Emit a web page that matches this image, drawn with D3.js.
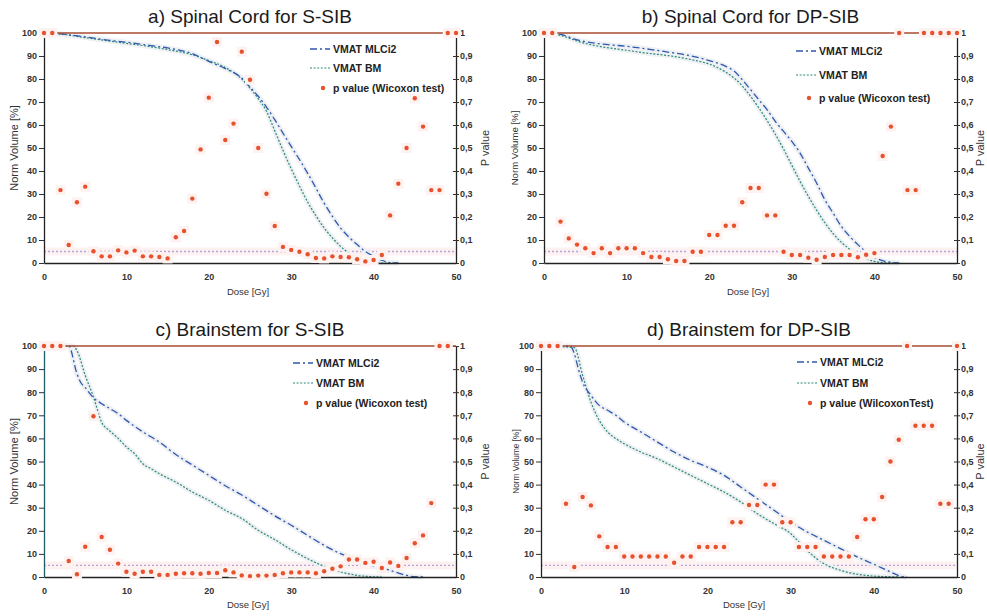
<!DOCTYPE html>
<html><head><meta charset="utf-8">
<script src="https://cdn.jsdelivr.net/npm/d3@7/dist/d3.min.js"></script>
<style>
body{margin:0;background:#fff;}
svg{display:block;font-family:"Liberation Sans",Arial,sans-serif;}
</style></head>
<body>
<svg id="c" width="987" height="616"></svg>
<script>
// ---------- DATA ----------
const titles = ["a) Spinal Cord for S-SIB","b) Spinal Cord for DP-SIB","c) Brainstem for S-SIB","d) Brainstem for DP-SIB"];
const legendLabels = ["VMAT MLCi2","VMAT BM"];
const pLegendLabels = ["p value (Wicoxon test)","p value (Wicoxon test)","p value (Wicoxon test)","p value (WilcoxonTest)"];
const volTicks = [0,10,20,30,40,50,60,70,80,90,100];
const pTicks = [0,0.1,0.2,0.3,0.4,0.5,0.6,0.7,0.8,0.9,1];
const doseTicks = [0,10,20,30,40,50];
const pThreshold = 0.05;
const pDose = [0,1,2,3,4,5,6,7,8,9,10,11,12,13,14,15,16,17,18,19,20,21,22,23,24,25,26,27,28,29,30,31,32,33,34,35,36,37,38,39,40,41,42,43,44,45,46,47,48,49,50];

// Panel a
const doseA = [0,2,5,8,10,13,15,18,20,22,24,25,26,27,28,29,30,31,32,33,34,35,36,37,38,39,40,41,42,43];
const mlcA = [100,99.6,98.3,96.8,96,94.5,93.5,91,87.7,84.5,80.4,76.5,72.5,67.8,62.3,56.5,50.7,45,39,32.6,26,20.3,15.2,11.3,8,5,2.9,1.2,0.2,0];
const bmA  = [100,99.5,98,96.5,95.5,94,92.8,90.5,88,85,80,76,71.5,66,57.5,49,41,33.5,26.5,20.5,15.2,10.9,7.2,4.3,2.2,0.9,0.2,0,0,0];
const pA = [1,1,0.317,0.078,0.264,0.332,0.051,0.029,0.029,0.055,
  0.046,0.054,0.029,0.029,0.026,0.02,0.112,0.139,0.28,0.494,
  0.719,0.961,0.535,0.606,0.919,0.797,0.5,0.301,0.161,0.07,
  0.057,0.049,0.038,0.022,0.02,0.029,0.026,0.025,0.016,0.007,
  0.013,0.035,0.207,0.345,0.5,0.716,0.593,0.317,0.317,1,1];

// Panel b
const doseB = [0,2,4,5,7,10,13,15,17,19,20,22,23,24,25,26,27,28,29,30,31,32,33,34,35,36,37,38,39,40,41,42,43];
const mlcB = [100,99.4,97,96.2,95.2,94.2,92.8,91.7,90.6,89,88,85.5,83.5,79.7,75.4,71,66.7,61.6,57.2,52.9,47.8,41.3,34.8,27.5,21.7,15.9,11.6,8,4.8,2.5,1,0.3,0];
const bmB  = [100,99,96.5,95.5,94,92.5,91,90.2,89,87.5,86.5,83,80.5,77,72.5,67.5,62,56,49.5,42.5,35.5,29,23,17.5,12.8,9,6,3.5,1.8,0.7,0.2,0,0];
const pB = [1,1,0.18,0.107,0.08,0.064,0.043,0.064,0.043,0.064,
  0.064,0.064,0.043,0.026,0.026,0.016,0.009,0.009,0.049,0.049,
  0.122,0.122,0.162,0.162,0.264,0.326,0.326,0.207,0.207,0.049,
  0.035,0.035,0.023,0.014,0.026,0.035,0.035,0.035,0.025,0.036,
  0.043,0.465,0.593,1,0.317,0.317,1,1,1,1,1];

// Panel c
const doseCmlc = [0,3,4,4.5,5,6,7,8,9,10,12,14,16,18,20,22,24,26,28,30,32,34,36,37,38,40,42,43,44,45,46];
const mlcC = [100,100,88,84,82,77.6,75,72.9,70.7,67.8,62.8,58.4,53,48.5,44,39.5,35.5,31,26.5,22.4,18,13.7,10.1,8.7,6.9,4.6,2.9,1.7,0.7,0.1,0];
const doseCbm = [0,3.5,4,5,6,7,8,9,10,11,12,13,14,16,18,20,22,24,26,28,30,32,34,36,38,40,41];
const bmC = [100,100,98,87.3,78,67,63.2,60,56.3,53.4,49,46.9,44.7,41.1,36.8,33.2,28.9,25.3,20.2,16.2,11.8,7.9,4.6,2.2,0.7,0.1,0];
const pC = [1,1,1,0.069,0.012,0.131,0.696,0.173,0.118,0.058,
  0.023,0.014,0.023,0.023,0.009,0.009,0.014,0.016,0.016,0.014,
  0.017,0.017,0.029,0.02,0.007,0.004,0.006,0.006,0.009,0.016,
  0.02,0.02,0.02,0.016,0.025,0.036,0.046,0.076,0.076,0.061,
  0.066,0.039,0.063,0.048,0.082,0.146,0.18,0.32,1,1,null];

// Panel d
const doseDmlc = [0,3.5,4,4.5,5,6,7,8,9,10,12,14,16,18,20,22,24,26,28,30,32,34,36,38,40,42,43,44];
const mlcD = [100,100,96.7,90,84.4,78.6,74.3,72.2,70,67.1,62.8,58.4,54.1,50.5,47.6,44,39,33.9,28.9,23.8,19.5,15.9,12.3,8.7,5.5,2.2,0.6,0];
const doseDbm = [0,4,5,6,7,8,9,10,12,14,16,18,20,22,24,26,28,30,31,32,34,36,38,40,42,43];
const bmD = [100,99.3,87.3,75.8,67.8,62.8,59.9,57.7,54.1,51.2,47.6,44,40.4,36.8,32.5,27.4,23.1,18.8,15.2,11.5,5.8,2.9,1.2,0.4,0.1,0];
const pD = [1,1,1,0.317,0.043,0.346,0.31,0.176,0.13,0.13,
  0.089,0.089,0.089,0.089,0.089,0.089,0.062,0.089,0.089,0.13,
  0.13,0.13,0.13,0.237,0.237,0.312,0.312,0.4,0.4,0.237,
  0.237,0.13,0.13,0.13,0.089,0.089,0.089,0.089,0.173,0.25,
  0.25,0.346,0.5,0.594,1,0.655,0.655,0.655,0.317,0.317,1];

// ---------- LAYOUT ----------
const panels = [
  {x0:44,x1:456,yT:33,yB:263,titleY:23,xlabX:248,xlabY:295,ylabX:14,ylabFs:11,pvX:485,legX:310,legY:[49,68,88],
   mlcDose:doseA,mlc:mlcA,bmDose:doseA,bm:bmA,p:pA,leftCol:"#222"},
  {x0:544,x1:957,yT:33,yB:263,titleY:23,xlabX:748,xlabY:295,ylabX:515,ylabFs:9.6,pvX:980,legX:796,legY:[51,75,98],
   mlcDose:doseB,mlc:mlcB,bmDose:doseB,bm:bmB,p:pB,leftCol:"#222"},
  {x0:44,x1:456,yT:346,yB:577,titleY:336,xlabX:248,xlabY:608,ylabX:14,ylabFs:11.2,pvX:485,legX:293,legY:[363,383,403],
   mlcDose:doseCmlc,mlc:mlcC,bmDose:doseCbm,bm:bmC,p:pC,leftCol:"#1f5a68"},
  {x0:541,x1:957,yT:346,yB:577,titleY:336,xlabX:744,xlabY:608,ylabX:516,ylabFs:8.3,pvX:980,legX:797,legY:[362,383,403],
   mlcDose:doseDmlc,mlc:mlcD,bmDose:doseDbm,bm:bmD,p:pD,leftCol:"#222"}
];

const svg = d3.select("#c");
const mlcColor = "#2f58b0", bmColor = "#2a8a78", ptColor = "#e8512e";

panels.forEach((P,i)=>{
  const g = svg.append("g");
  const x = d3.scaleLinear().domain([0,50]).range([P.x0,P.x1]);
  const y = d3.scaleLinear().domain([0,100]).range([P.yB,P.yT]);
  const yp = d3.scaleLinear().domain([0,1]).range([P.yB,P.yT]);

  // title
  g.append("text").attr("x",(P.x0+P.x1)/2).attr("y",P.titleY).attr("text-anchor","middle")
    .attr("font-size",19).attr("fill","#1a1a1a").text(titles[i]);

  // threshold band + line
  g.append("rect").attr("x",P.x0).attr("width",P.x1-P.x0).attr("y",yp(pThreshold)-4).attr("height",8)
    .attr("fill","#fdf1f1");
  g.append("line").attr("x1",P.x0).attr("x2",P.x1).attr("y1",yp(pThreshold)).attr("y2",yp(pThreshold))
    .attr("stroke","#b4a6dc").attr("stroke-width",1.3).attr("stroke-dasharray","2,2");

  // curves
  const line = d3.line().x(d=>x(d[0])).y(d=>y(d[1])).curve(d3.curveMonotoneX);
  const mlcPts = P.mlcDose.map((d,k)=>[d,P.mlc[k]]);
  const bmPts = P.bmDose.map((d,k)=>[d,P.bm[k]]);
  [mlcPts,bmPts].forEach(pts=>{
    g.append("path").attr("d",line(pts)).attr("fill","none").attr("stroke","#eef0f3").attr("stroke-width",5).attr("stroke-linejoin","round");
  });
  g.append("path").attr("d",line(bmPts)).attr("fill","none").attr("stroke",bmColor).attr("stroke-width",1.2).attr("stroke-dasharray","2,1.6");
  g.append("path").attr("d",line(mlcPts)).attr("fill","none").attr("stroke",mlcColor).attr("stroke-width",1.3).attr("stroke-dasharray","7,3,2,3");

  // axes
  const ax = g.append("g").attr("transform",`translate(${P.x0},0)`)
    .call(d3.axisLeft(y).tickValues(volTicks).tickSize(5).tickSizeOuter(0).tickPadding(2));
  ax.select(".domain").attr("stroke",P.leftCol).attr("stroke-width",1.3);
  ax.selectAll(".tick line").attr("stroke","#333");
  ax.selectAll("text").attr("font-size",9).attr("fill","#333").attr("font-weight","bold").attr("font-family","Liberation Sans, Arial");

  const fmt = d => d===0?"0":d===1?"1":String(d).replace(".",",");
  const ar = g.append("g").attr("transform",`translate(${P.x1},0)`)
    .call(d3.axisRight(yp).tickValues(pTicks).tickFormat(fmt).tickSize(3).tickSizeOuter(0).tickPadding(1));
  ar.select(".domain").attr("stroke","#222").attr("stroke-width",1.3);
  ar.selectAll(".tick line").attr("x1",-3).attr("stroke","#333");
  ar.selectAll("text").attr("font-size",9).attr("fill","#333").attr("font-weight","bold").attr("font-family","Liberation Sans, Arial");

  const ab = g.append("g").attr("transform",`translate(0,${P.yB})`)
    .call(d3.axisBottom(x).tickValues(doseTicks).tickSize(0).tickPadding(11));
  ab.select(".domain").attr("stroke","#222").attr("stroke-width",1.3);
  ab.selectAll("text").attr("font-size",9).attr("fill","#333").attr("font-weight","bold").attr("font-family","Liberation Sans, Arial");

  // top frame
  g.append("line").attr("x1",P.x0).attr("x2",P.x1).attr("y1",P.yT).attr("y2",P.yT)
    .attr("stroke","#a94b33").attr("stroke-width",1.3);

  // p-value points
  const pts = pDose.map((d,k)=>[d,P.p[k]]).filter(d=>d[1]!==null);
  g.selectAll(".halo").data(pts).enter().append("rect")
    .attr("x",d=>x(d[0])-5).attr("y",d=>yp(d[1])-5).attr("width",10).attr("height",10).attr("fill","#fdf2ef");
  g.selectAll(".pt").data(pts).enter().append("circle")
    .attr("cx",d=>x(d[0])).attr("cy",d=>yp(d[1])).attr("r",2.2).attr("fill",ptColor);

  // axis labels
  g.append("text").attr("x",P.xlabX).attr("y",P.xlabY).attr("text-anchor","middle").attr("font-size",9.5).attr("fill","#333").text("Dose [Gy]");
  g.append("text").attr("transform",`translate(${P.ylabX},${(P.yT+P.yB)/2}) rotate(-90)`).attr("dy","0.35em")
    .attr("text-anchor","middle").attr("font-size",P.ylabFs).attr("fill","#333").text("Norm Volume [%]");
  g.append("text").attr("transform",`translate(${P.pvX},${(P.yT+P.yB)/2}) rotate(-90)`).attr("dy","0.35em")
    .attr("text-anchor","middle").attr("font-size",11).attr("fill","#333").text("P value");

  // legend
  const L = g.append("g");
  const lx = P.legX, tx = P.legX+23;
  L.append("line").attr("x1",lx).attr("x2",lx+20).attr("y1",P.legY[0]).attr("y2",P.legY[0])
    .attr("stroke",mlcColor).attr("stroke-width",1.3).attr("stroke-dasharray","7,3,2,3");
  L.append("line").attr("x1",lx).attr("x2",lx+20).attr("y1",P.legY[1]).attr("y2",P.legY[1])
    .attr("stroke",bmColor).attr("stroke-width",1.2).attr("stroke-dasharray","2,1.6");
  L.append("circle").attr("cx",lx+13).attr("cy",P.legY[2]).attr("r",2.2).attr("fill",ptColor);
  const labs = [legendLabels[0],legendLabels[1],pLegendLabels[i]];
  labs.forEach((t,k)=>{
    L.append("text").attr("x",tx).attr("y",P.legY[k]).attr("dy","0.35em").attr("font-size",10.5)
      .attr("font-weight","bold").attr("fill","#222").text(t);
  });
});
</script>
</body></html>
